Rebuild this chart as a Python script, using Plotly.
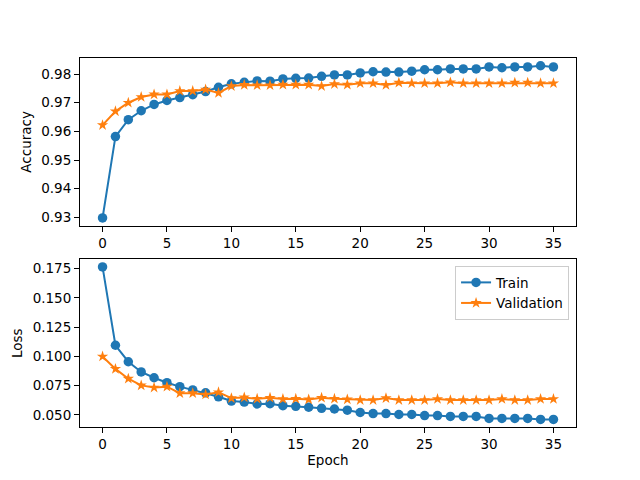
import plotly.graph_objects as go
from plotly.subplots import make_subplots

epochs = list(range(36))

train_acc = [0.9298, 0.9582, 0.9641, 0.9672, 0.9694, 0.9708, 0.9718, 0.9728, 0.9739, 0.9754,
             0.9766, 0.9771, 0.9776, 0.9775, 0.9783, 0.9785, 0.9786, 0.9792, 0.9797, 0.9797,
             0.9804, 0.9808, 0.9807, 0.9807, 0.9810, 0.9815, 0.9815, 0.9818, 0.9818, 0.9818,
             0.9825, 0.9822, 0.9825, 0.9825, 0.9829, 0.9825]
val_acc = [0.9622, 0.9670, 0.9700, 0.9720, 0.9729, 0.9729, 0.9741, 0.9741, 0.9746, 0.9734,
           0.9758, 0.9762, 0.9761, 0.9761, 0.9763, 0.9763, 0.9763, 0.9758, 0.9765, 0.9763,
           0.9768, 0.9768, 0.9762, 0.9770, 0.9768, 0.9768, 0.9768, 0.9771, 0.9768, 0.9768,
           0.9768, 0.9768, 0.9770, 0.9770, 0.9768, 0.9768]

train_loss = [0.1765, 0.1095, 0.0954, 0.0867, 0.0817, 0.0775, 0.0741, 0.0713, 0.0688, 0.0654,
              0.0618, 0.0609, 0.0593, 0.0595, 0.0578, 0.0573, 0.0565, 0.0556, 0.0550, 0.0540,
              0.0520, 0.0511, 0.0511, 0.0503, 0.0503, 0.0494, 0.0494, 0.0486, 0.0486, 0.0486,
              0.0469, 0.0469, 0.0469, 0.0469, 0.0461, 0.0461]
val_loss = [0.0999, 0.0893, 0.0809, 0.0752, 0.0733, 0.0741, 0.0685, 0.0685, 0.0674, 0.0693,
            0.0643, 0.0649, 0.0637, 0.0646, 0.0635, 0.0637, 0.0632, 0.0646, 0.0637, 0.0632,
            0.0626, 0.0626, 0.0643, 0.0626, 0.0626, 0.0626, 0.0635, 0.0626, 0.0626, 0.0626,
            0.0626, 0.0635, 0.0626, 0.0626, 0.0635, 0.0635]

BLUE = "#1f77b4"
ORANGE = "#ff7f0e"
FONT = "DejaVu Sans"
FS = 13.5

fig = make_subplots(rows=2, cols=1, vertical_spacing=0.091)

# accuracy
fig.add_trace(go.Scatter(x=epochs, y=train_acc, mode="lines+markers", name="Train",
                         line=dict(color=BLUE, width=2), marker=dict(symbol="circle", size=9.5),
                         showlegend=False), row=1, col=1)
fig.add_trace(go.Scatter(x=epochs, y=val_acc, mode="lines+markers", name="Validation",
                         line=dict(color=ORANGE, width=2), marker=dict(symbol="star", size=8.5),
                         showlegend=False), row=1, col=1)
# loss
fig.add_trace(go.Scatter(x=epochs, y=train_loss, mode="lines+markers", name="Train",
                         line=dict(color=BLUE, width=2), marker=dict(symbol="circle", size=9.5)),
              row=2, col=1)
fig.add_trace(go.Scatter(x=epochs, y=val_loss, mode="lines+markers", name="Validation",
                         line=dict(color=ORANGE, width=2), marker=dict(symbol="star", size=8.5)),
              row=2, col=1)

axis_style = dict(showline=True, linecolor="black", linewidth=1, mirror=True,
                  ticks="outside", ticklen=5, tickcolor="black", showgrid=False,
                  zeroline=False, automargin=False,
                  tickfont=dict(size=FS, color="black"),
                  title_font=dict(size=FS, color="black"))

fig.update_xaxes(axis_style)
fig.update_yaxes(axis_style)
fig.update_xaxes(range=[-1.75, 36.75], tickvals=[0, 5, 10, 15, 20, 25, 30, 35])
fig.update_yaxes(range=[0.9271, 0.9856], tickvals=[0.93, 0.94, 0.95, 0.96, 0.97, 0.98],
                 tickformat=".2f", title_text="Accuracy", row=1, col=1)
fig.update_yaxes(range=[0.0396, 0.1830],
                 tickvals=[0.05, 0.075, 0.1, 0.125, 0.15, 0.175],
                 tickformat=".3f", title_text="Loss", row=2, col=1)
fig.update_xaxes(title_text="Epoch", title_standoff=4, row=2, col=1)
fig.update_yaxes(title_standoff=6)

# page body adds ~8px offset, so margins are shifted to compensate
fig.update_layout(
    width=640, height=480,
    margin=dict(l=72, r=72, t=49.6, b=60.8),
    plot_bgcolor="white", paper_bgcolor="white",
    font=dict(family=FONT, size=FS, color="black"),
    legend=dict(x=0.986, y=0.436, xanchor="right", yanchor="top",
                bordercolor="#cccccc", borderwidth=1, bgcolor="rgba(255,255,255,0.8)",
                font=dict(size=FS), itemwidth=30),
)

fig.write_html("out.html")
